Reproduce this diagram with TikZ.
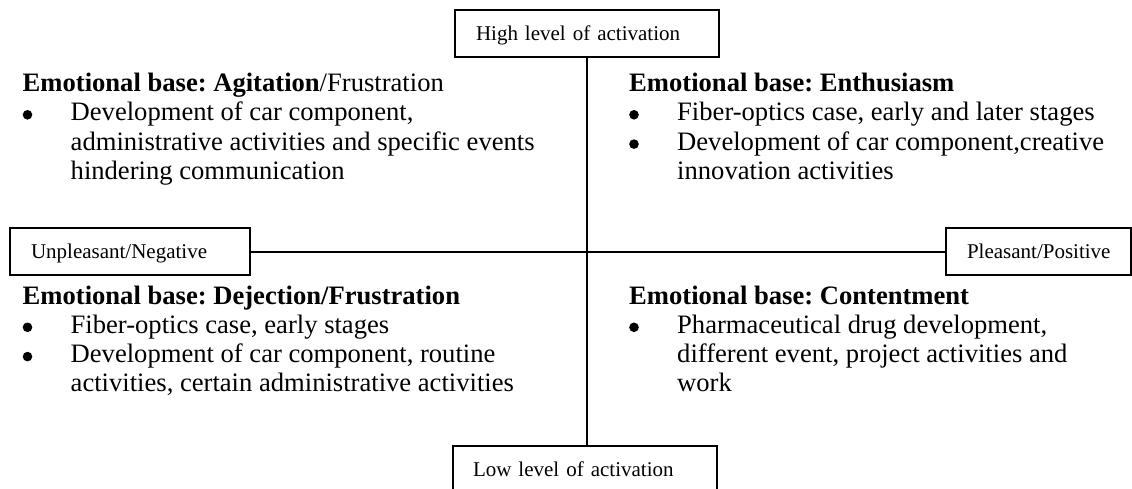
\documentclass[tikz,border=0pt]{standalone}
\usepackage{fontspec}
\setmainfont{Liberation Serif}
\usepackage{array}
\frenchspacing

\tikzset{
  % framed axis labels, text set about 21pt in from the left edge
  axisbox/.style={draw, line width=2pt, rectangle, anchor=north west,
    inner xsep=0pt, inner ysep=0pt, text height=30pt, text depth=17pt,
    align=left, font=\fontsize{21}{25}\selectfont},
  axisline/.style={line width=2pt},
  % one quadrant: heading plus bullet list
  quadtext/.style={anchor=base west, inner sep=0pt,
    font=\fontsize{26.6}{29.3}\selectfont}
}

% round list bullet, centred 6pt above the baseline
\newcommand{\listdot}{\tikz[baseline=-6pt]\fill (0,0) circle (4.8pt);}
\newcommand{\bulletlist}[1]{%
  \begin{tabular}[t]{@{}p{48pt}@{}l@{}}#1\end{tabular}}
\newcommand{\quadhead}[1]{\multicolumn{2}{@{}l@{}}{#1}}

\begin{document}
\begin{tikzpicture}[x=1pt, y=-1pt]
  \useasboundingbox (0,0) rectangle (1132,488);
  \clip (0,0) rectangle (1132,488);

  % axis end labels
  \node[axisbox, text width=264pt] (high) at (454,9)
    {\hspace*{21pt}High level of activation};
  \node[axisbox, text width=264pt] (low) at (452,445)
    {\hspace*{20pt}Low level of activation};
  \node[axisbox, text width=240pt] (neg) at (9,227)
    {\hspace*{21pt}Unpleasant/Negative};
  \node[axisbox, text width=185pt] (pos) at (945,227)
    {\hspace*{21pt}Pleasant/Positive};

  % axes
  \draw[axisline] (high.south) -- (high.south |- low.north);
  \draw[axisline] (neg.east) -- (pos.west);

  % quadrants
  \node[quadtext] (tl) at (22.5,91.5) {\bulletlist{%
    \quadhead{\textbf{Emotional base: Agitation}/Frustration}\\
    \listdot & Development of car component,\\
             & administrative activities and specific events\\
             & hindering communication}};

  \node[quadtext] (tr) at (629,91.5) {\bulletlist{%
    \quadhead{\textbf{Emotional base: Enthusiasm}}\\
    \listdot & Fiber-optics case, early and later stages\\
    \listdot & Development of car component,creative\\
             & innovation activities}};

  \node[quadtext] (bl) at (22.5,304) {\bulletlist{%
    \quadhead{\textbf{Emotional base: Dejection/Frustration}}\\
    \listdot & Fiber-optics case, early stages\\
    \listdot & Development of car component, routine\\
             & activities, certain administrative activities}};

  \node[quadtext] (br) at (629,304) {\bulletlist{%
    \quadhead{\textbf{Emotional base: Contentment}}\\
    \listdot & Pharmaceutical drug development,\\
             & different event, project activities and\\
             & work}};
\end{tikzpicture}
\end{document}
